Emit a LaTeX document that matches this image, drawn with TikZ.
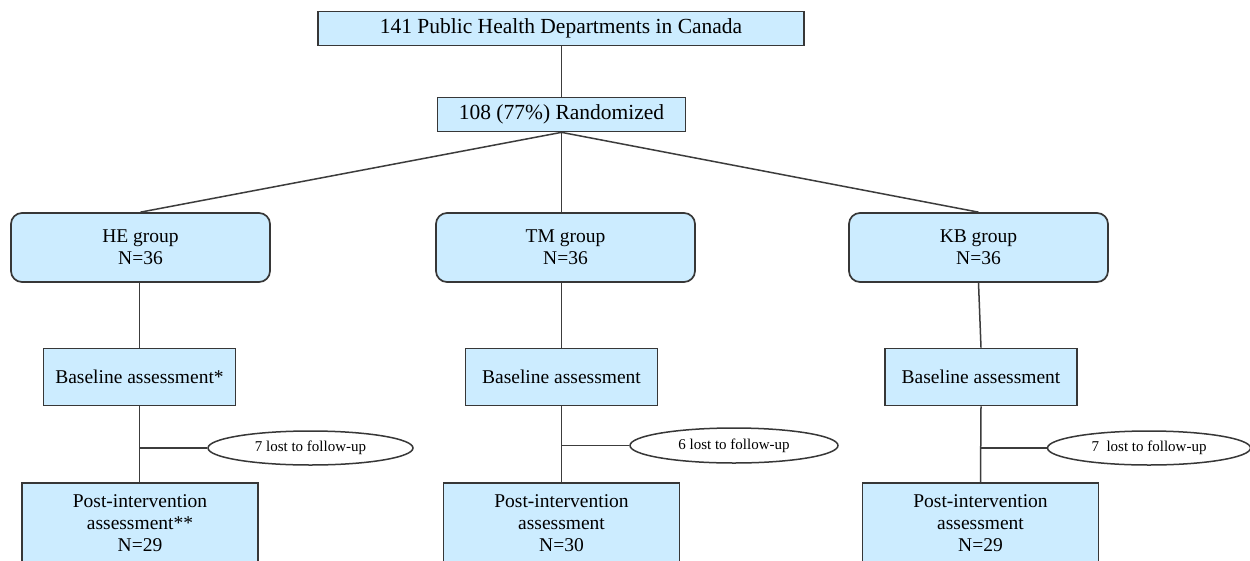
\documentclass[tikz,border=0pt]{standalone}
\usepackage{fontspec}
\setmainfont{Liberation Serif}
\usetikzlibrary{shapes.geometric}
\definecolor{boxfill}{RGB}{204,236,255}
\definecolor{boxline}{RGB}{55,55,55}
\definecolor{conn}{RGB}{60,60,60}
\tikzset{
  sqbox/.style={draw=boxline, fill=boxfill, line width=1.7pt, inner sep=0pt, align=center, font=\fontsize{19.5}{22}\selectfont},
  topbox/.style={sqbox, font=\fontsize{21.5}{24}\selectfont},
  grpbox/.style={sqbox, rounded corners=11pt, minimum width=259pt, minimum height=69pt},
  basebox/.style={sqbox, minimum width=192pt, minimum height=57pt},
  postbox/.style={sqbox, minimum width=236pt, minimum height=80pt},
  lostnode/.style={ellipse, draw=boxline, fill=white, line width=1.5pt, inner sep=0pt, font=\fontsize{15}{16}\selectfont},
  link/.style={draw=conn, line width=1.5pt}
}
\begin{document}
\begin{tikzpicture}[x=1pt, y=-1pt]
\useasboundingbox (0,0) rectangle (1250,560);
\clip (0,0) rectangle (1250,560);
\fill[white] (0,0) rectangle (1250,560);

\node[topbox, minimum width=486pt, minimum height=34pt] (top) at (561,28.5) {141 Public Health Departments in Canada};
\node[topbox, minimum width=248pt, minimum height=34pt] (rand) at (561.5,114.5) {108 (77\%) Randomized};

\node[grpbox] (he) at (140.5,247.5) {HE group\\N=36};
\node[grpbox] (tm) at (565.5,247.5) {TM group\\N=36};
\node[grpbox] (kb) at (978.5,247.5) {KB group\\N=36};

\node[basebox] (hebase) at (139.5,377) {Baseline assessment*};
\node[basebox] (tmbase) at (561.5,377) {Baseline assessment};
\node[basebox] (kbbase) at (981,377) {Baseline assessment};

\node[lostnode, minimum width=205pt, minimum height=34pt] (helost) at (310.5,448) {7 lost to follow-up};
\node[lostnode, minimum width=208pt, minimum height=35pt] (tmlost) at (734,445.5) {6 lost to follow-up};
\node[lostnode, minimum width=203pt, minimum height=34pt] (kblost) at (1149,448) {7\ \ lost to follow-up};

\node[postbox] (hepost) at (140,523) {Post-intervention\\assessment**\\N=29};
\node[postbox] (tmpost) at (561.5,523) {Post-intervention\\assessment\\N=30};
\node[postbox] (kbpost) at (980.5,523) {Post-intervention\\assessment\\N=29};

\draw[link] (rand.north |- top.south) -- (rand.north);
\draw[link] (rand.south) -- (he.north);
\draw[link] (rand.south) -- (rand.south |- tm.north);
\draw[link] (rand.south) -- (kb.north);

\draw[link] (hebase.north |- he.south) -- (hebase.north);
\draw[link] (hebase.south) -- (hebase.south |- hepost.north);
\draw[link] (helost.west -| hebase.south) -- (helost.west);

\draw[link] (tmbase.north |- tm.south) -- (tmbase.north);
\draw[link] (tmbase.south) -- (tmpost.north);
\draw[link] (tmlost.west -| tmbase.south) -- (tmlost.west);

\draw[link] (kb.south) -- (kbbase.north);
\draw[link] (kbbase.south) -- (kbpost.north);
\draw[link] (kblost.west -| kbbase.south) -- (kblost.west);
\end{tikzpicture}
\end{document}
